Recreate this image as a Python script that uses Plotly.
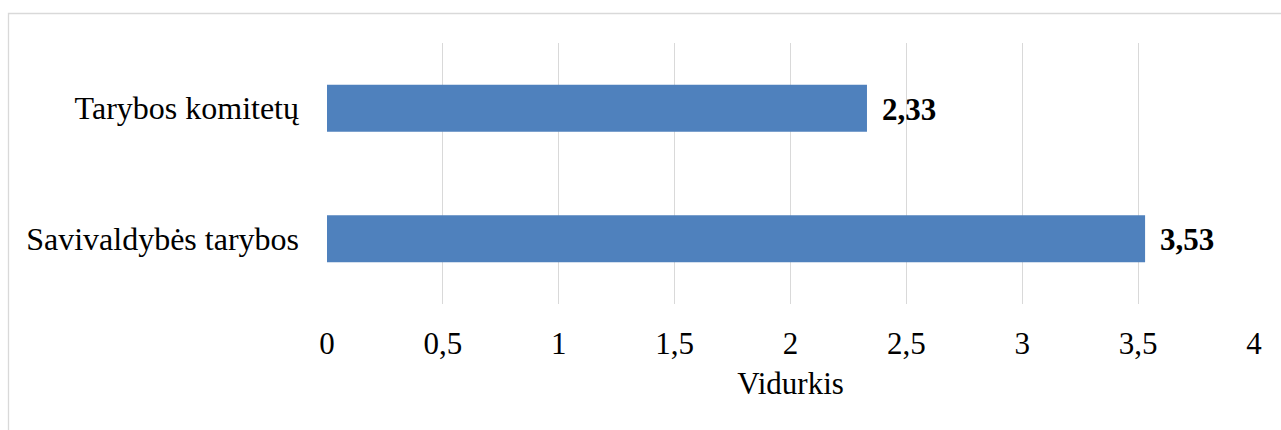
import plotly.graph_objects as go

categories = ["Savivaldybės tarybos", "Tarybos komitetų"]
values = [3.53, 2.33]
value_labels = ["3,53", "2,33"]
x_ticks = [0, 0.5, 1, 1.5, 2, 2.5, 3, 3.5, 4]

W, H = 1281, 430
ml, mr, mt, mb = 327, 27, 43, 126
pw = W - ml - mr
ph = H - mt - mb

FONT = "Liberation Serif, Times New Roman, serif"
FS = 31

fig = go.Figure()
fig.add_trace(go.Bar(
    y=categories, x=values, orientation="h",
    marker=dict(color="#4f81bd", line=dict(width=0)),
    width=0.36,
    hoverinfo="skip",
))

for c, v, t in zip(categories, values, value_labels):
    fig.add_annotation(x=v, y=c, text=f"<b>{t}</b>", showarrow=False,
                       xanchor="left", xshift=13, yshift=-1,
                       font=dict(family=FONT, size=FS, color="#000000"))

def px2paper_x(px):
    return (px - ml) / pw

def px2paper_y(py):
    return (H - mb - py) / ph

fig.add_shape(type="rect", xref="paper", yref="paper",
              x0=px2paper_x(8.5), x1=px2paper_x(1300),
              y0=px2paper_y(450), y1=px2paper_y(13.5),
              line=dict(color="#d9d9d9", width=1.3), fillcolor="rgba(0,0,0,0)",
              layer="below")

fig.update_layout(
    width=W, height=H,
    margin=dict(l=ml, r=mr, t=mt, b=mb),
    paper_bgcolor="white", plot_bgcolor="white",
    separators=", ",
    showlegend=False,
    font=dict(family=FONT, size=FS, color="#000000"),
    xaxis=dict(
        range=[0, 4], tickvals=x_ticks,
        showgrid=True, gridcolor="#d9d9d9", gridwidth=1.3,
        zeroline=False, showline=False, ticks="",
        ticklabelstandoff=18,
        tickfont=dict(family=FONT, size=FS),
        title=dict(text="Vidurkis", font=dict(family=FONT, size=FS), standoff=12),
    ),
    yaxis=dict(
        showgrid=False, zeroline=False, showline=False, ticks="",
        ticklabelstandoff=27,
        tickfont=dict(family=FONT, size=32),
    ),
    bargap=0.64,
)

fig.write_html("out.html", config={"displayModeBar": False},
               post_script="document.body.style.margin='0';document.body.style.padding='0';")
